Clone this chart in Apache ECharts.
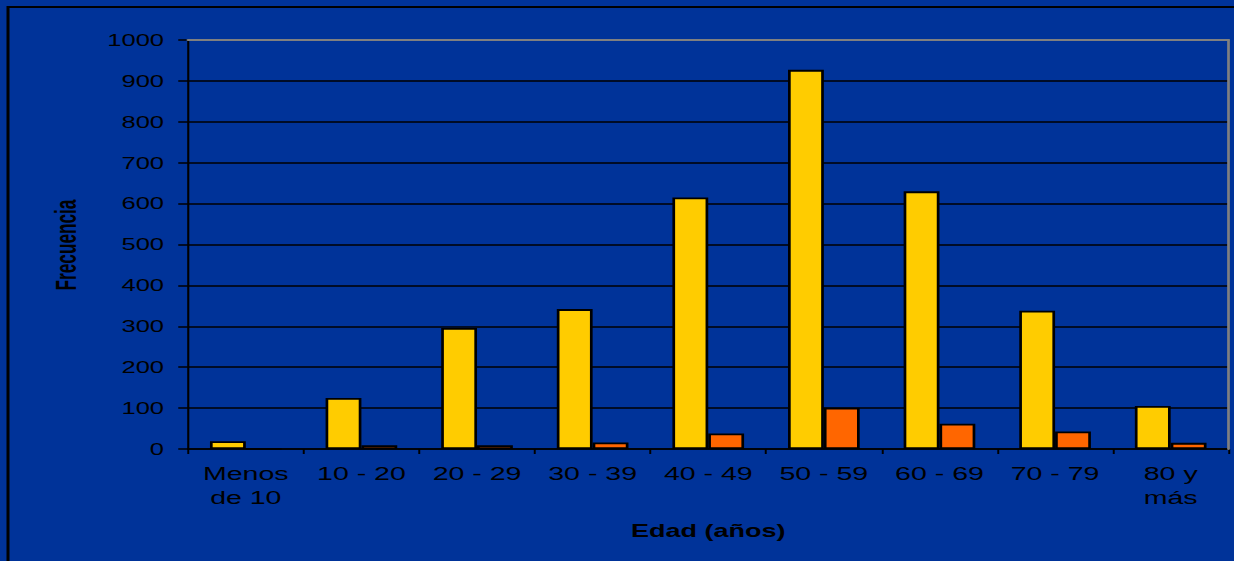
<!DOCTYPE html>
<html><head><meta charset="utf-8">
<script src="https://cdn.jsdelivr.net/npm/echarts@6/dist/echarts.min.js"></script>
<style>
html,body{margin:0;padding:0;background:#003399;overflow:hidden;width:1234px;height:561px;}
#chart{width:822.67px;height:561px;transform:scaleX(1.5);transform-origin:0 0;}
</style></head><body><div id="chart"></div>
<script>
const categories = ['Menos\nde 10','10 - 20','20 - 29','30 - 39','40 - 49','50 - 59','60 - 69','70 - 79','80 y\nmás'];
const serieAmarilla = [19,125,296,342,615,927,630,338,105];
const serieNaranja = [0,9,9,16,38,101,62,43,15];
const yMin = 0, yMax = 1000, yInterval = 100;
const xTitle = 'Edad (años)';
const yTitle = 'Frecuencia';

const FONT = '"Liberation Sans", Arial, sans-serif';
const chart = echarts.init(document.getElementById('chart'), null, {renderer:'svg'});
chart.setOption({
  animation:false,
  backgroundColor:'#003399',
  grid:{left:125.33,right:4,top:40,bottom:112,containLabel:false,outerBoundsMode:'none'},
  xAxis:[{
    type:'category', data:categories, position:'bottom',
    axisLine:{show:true,lineStyle:{color:'#000',width:1.6}},
    axisTick:{show:true,length:5,lineStyle:{color:'#000',width:1.3}},
    axisLabel:{color:'#000',fontFamily:FONT,fontSize:19,lineHeight:24,margin:12,interval:0},
    splitLine:{show:false},
    name:xTitle, nameLocation:'middle', nameGap:73,
    nameTextStyle:{color:'#000',fontFamily:FONT,fontSize:18,fontWeight:'bold'}
  },{
    type:'category', data:categories, position:'top', z:5,
    axisLine:{show:true,onZero:false,lineStyle:{color:'#808080',width:2}},
    axisTick:{show:false}, axisLabel:{show:false}, splitLine:{show:false}
  }],
  yAxis:[{
    type:'value', min:yMin, max:yMax, interval:yInterval,
    axisLine:{show:true,lineStyle:{color:'#000',width:1.4}},
    axisTick:{show:true,length:6.5,lineStyle:{color:'#000',width:1.5}},
    axisLabel:{color:'#000',fontFamily:FONT,fontSize:17,margin:16,formatter:function(v){return String(v);}},
    splitLine:{show:true,showMaxLine:false,lineStyle:{color:'#000',width:1.6}}
  },{
    type:'value', min:yMin, max:yMax, interval:yInterval, position:'right', z:5,
    axisLine:{show:true,onZero:false,lineStyle:{color:'#808080',width:1.8}},
    axisTick:{show:false}, axisLabel:{show:false}, splitLine:{show:false}
  }],
  graphic:[
    {type:'rect', z:100, silent:true, shape:{x:5.33,y:7,width:2000,height:2000}, style:{fill:'none',stroke:'#000',lineWidth:2}},
    {type:'text', z:100, x:44, y:245, rotation:Math.PI/2, scaleX:0.86,
     style:{text:yTitle, font:'bold 20px '+FONT, fill:'#000', align:'center', verticalAlign:'middle', textAlign:'center', textVerticalAlign:'middle'}}
  ],
  series:[
    {type:'bar', name:'Serie 1', data:serieAmarilla, xAxisIndex:0, yAxisIndex:0, barGap:'0%', barCategoryGap:'38%',
     itemStyle:{color:'#FFCC00',borderColor:'#000',borderWidth:1.8}},
    {type:'bar', name:'Serie 2', data:serieNaranja, xAxisIndex:0, yAxisIndex:0, barGap:'0%', barCategoryGap:'38%',
     itemStyle:{color:'#FF6600',borderColor:'#000',borderWidth:1.8}}
  ]
});
</script></body></html>
